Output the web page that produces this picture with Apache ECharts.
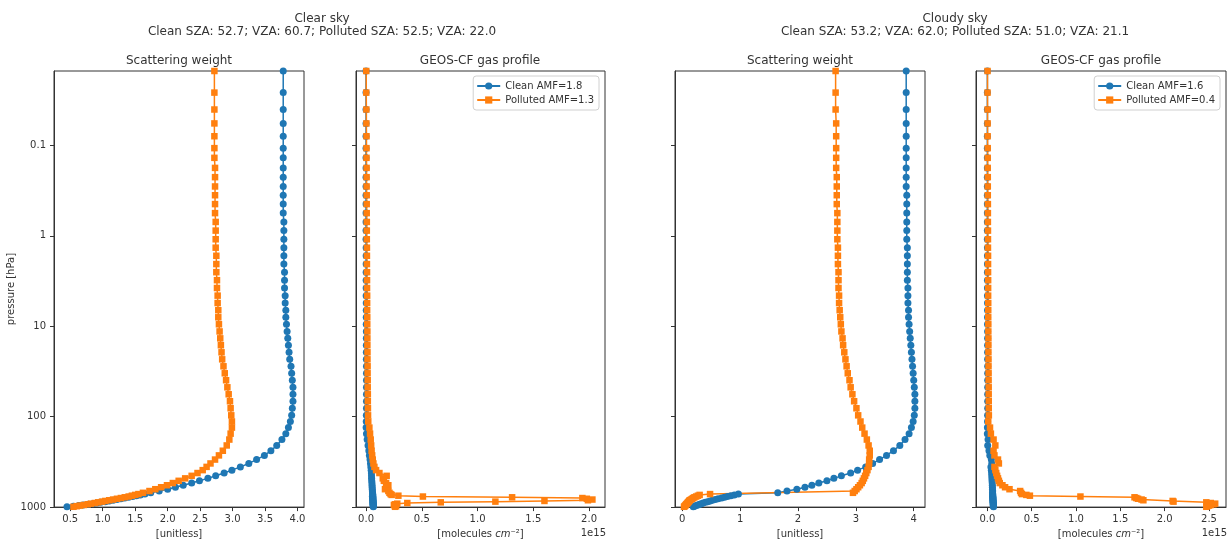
<!DOCTYPE html>
<html>
<head>
<meta charset="utf-8">
<title>Scattering weight / GEOS-CF gas profile</title>
<script src="https://cdn.jsdelivr.net/npm/echarts@6.0.0/dist/echarts.min.js"></script>
<style>
    html, body { margin: 0; padding: 0; background: #fff; }
    #main { width: 1231px; height: 544px; }
</style>
</head>
<body>
<div id="main"></div>
<script>
var FONT = 'DejaVu Sans';
var BLUE = '#1f77b4';
var ORANGE = '#ff7f0e';
var INK = '#333';

// model levels [hPa], top -> surface
var pressure = [
    0.015, 0.026, 0.040, 0.057, 0.079, 0.107, 0.137, 0.177, 0.224, 0.284,
    0.355, 0.445, 0.560, 0.701, 0.874, 1.09, 1.35, 1.66, 2.05, 2.52,
    3.09, 3.77, 4.58, 5.53, 6.64, 7.95, 9.50, 11.4, 13.6, 16.2,
    19.4, 23.2, 27.7, 33.1, 39.5, 47.3, 56.5, 67.5, 80.7, 96.6,
    113, 132, 154, 179, 208, 238, 268, 298, 329, 359,
    390, 420, 451, 481, 512, 542, 573, 603, 634, 664,
    695, 718, 733, 748, 764, 779, 794, 809, 825, 840,
    855, 870, 886, 901, 916, 931, 947, 962, 977, 992
];

// scattering weights, clear sky
var clearCleanSW = [
    3.78, 3.78, 3.78, 3.78, 3.78, 3.78, 3.78, 3.78, 3.78, 3.78,
    3.78, 3.78, 3.78, 3.79, 3.79, 3.79, 3.79, 3.79, 3.79, 3.80,
    3.80, 3.80, 3.81, 3.81, 3.82, 3.82, 3.83, 3.84, 3.85, 3.86,
    3.87, 3.88, 3.90, 3.91, 3.92, 3.93, 3.93, 3.93, 3.92, 3.91,
    3.89, 3.86, 3.82, 3.76, 3.68, 3.59, 3.49, 3.37, 3.25, 3.12,
    2.99, 2.87, 2.74, 2.62, 2.49, 2.37, 2.24, 2.12, 2.00, 1.87,
    1.74, 1.65, 1.58, 1.52, 1.46, 1.40, 1.34, 1.28, 1.22, 1.16,
    1.10, 1.04, 0.97, 0.91, 0.85, 0.78, 0.70, 0.63, 0.55, 0.45
];
var clearPollutedSW = [
    2.72, 2.72, 2.72, 2.72, 2.72, 2.72, 2.72, 2.73, 2.73, 2.73,
    2.73, 2.73, 2.73, 2.74, 2.74, 2.74, 2.74, 2.75, 2.75, 2.75,
    2.76, 2.76, 2.77, 2.77, 2.78, 2.78, 2.79, 2.80, 2.81, 2.82,
    2.83, 2.84, 2.86, 2.88, 2.90, 2.92, 2.94, 2.96, 2.97, 2.98,
    2.99, 2.99, 2.97, 2.95, 2.91, 2.85, 2.79, 2.73, 2.66, 2.60,
    2.54, 2.46, 2.37, 2.27, 2.17, 2.08, 1.99, 1.90, 1.81, 1.72,
    1.62, 1.55, 1.50, 1.45, 1.40, 1.34, 1.28, 1.22, 1.16, 1.10,
    1.04, 0.99, 0.93, 0.88, 0.82, 0.77, 0.71, 0.65, 0.60, 0.55
];

// scattering weights, cloudy sky
var cloudyCleanSW = [
    3.87, 3.87, 3.87, 3.87, 3.87, 3.87, 3.87, 3.87, 3.87, 3.87,
    3.88, 3.88, 3.88, 3.88, 3.88, 3.88, 3.89, 3.89, 3.89, 3.89,
    3.89, 3.90, 3.90, 3.90, 3.91, 3.91, 3.92, 3.93, 3.94, 3.95,
    3.96, 3.97, 3.98, 3.99, 4.00, 4.01, 4.02, 4.02, 4.02, 4.01,
    3.99, 3.96, 3.92, 3.85, 3.76, 3.65, 3.53, 3.41, 3.29, 3.17,
    3.03, 2.91, 2.75, 2.62, 2.50, 2.36, 2.24, 2.12, 1.98, 1.81,
    1.65, 0.97, 0.90, 0.84, 0.78, 0.73, 0.68, 0.62, 0.57, 0.52,
    0.48, 0.44, 0.40, 0.36, 0.33, 0.30, 0.27, 0.24, 0.21, 0.19
];
var cloudyPollutedSW = [
    2.65, 2.65, 2.65, 2.66, 2.66, 2.66, 2.66, 2.66, 2.67, 2.67,
    2.67, 2.67, 2.68, 2.68, 2.68, 2.68, 2.69, 2.69, 2.69, 2.70,
    2.70, 2.70, 2.71, 2.71, 2.72, 2.73, 2.74, 2.75, 2.77, 2.78,
    2.80, 2.82, 2.84, 2.86, 2.89, 2.91, 2.94, 2.97, 3.01, 3.04,
    3.08, 3.11, 3.15, 3.19, 3.22, 3.24, 3.24, 3.23, 3.23, 3.22,
    3.20, 3.18, 3.16, 3.14, 3.12, 3.10, 3.07, 3.04, 3.01, 2.98,
    2.95, 0.48, 0.30, 0.27, 0.24, 0.21, 0.19, 0.17, 0.15, 0.13,
    0.12, 0.11, 0.10, 0.09, 0.08, 0.07, 0.06, 0.05, 0.04, 0.03
];

// GEOS-CF partial columns [1e15 molecules cm-2], clear sky
var clearCleanProf = [
    0.000, 0.000, 0.000, 0.000, 0.000, 0.000, 0.000, 0.000, 0.000, 0.000,
    0.000, 0.000, 0.000, 0.000, 0.000, 0.000, 0.001, 0.001, 0.001, 0.001,
    0.001, 0.001, 0.001, 0.002, 0.002, 0.002, 0.002, 0.003, 0.003, 0.003,
    0.003, 0.003, 0.004, 0.004, 0.004, 0.004, 0.004, 0.004, 0.004, 0.003,
    0.002, 0.001, 0.004, 0.010, 0.018, 0.025, 0.030, 0.036, 0.040, 0.043,
    0.046, 0.048, 0.049, 0.050, 0.051, 0.053, 0.054, 0.055, 0.056, 0.057,
    0.058, 0.060, 0.058, 0.062, 0.057, 0.060, 0.063, 0.059, 0.061, 0.064,
    0.060, 0.062, 0.065, 0.061, 0.063, 0.066, 0.062, 0.064, 0.067, 0.065
];
var clearPollutedProf = [
    0.002, 0.002, 0.003, 0.003, 0.004, 0.004, 0.004, 0.005, 0.005, 0.005,
    0.006, 0.006, 0.006, 0.007, 0.007, 0.007, 0.008, 0.008, 0.008, 0.009,
    0.009, 0.009, 0.010, 0.010, 0.010, 0.011, 0.011, 0.012, 0.012, 0.012,
    0.013, 0.013, 0.014, 0.014, 0.015, 0.015, 0.016, 0.016, 0.017, 0.018,
    0.020, 0.030, 0.036, 0.042, 0.046, 0.050, 0.055, 0.060, 0.066, 0.075,
    0.090, 0.120, 0.185, 0.150, 0.160, 0.180, 0.200, 0.190, 0.170, 0.200,
    0.210, 0.220, 0.230, 0.290, 0.510, 1.310, 1.940, 1.980, 2.030, 1.990,
    1.600, 1.160, 0.670, 0.370, 0.280, 0.260, 0.250, 0.260, 0.270, 0.260
];

// GEOS-CF partial columns [1e15 molecules cm-2], cloudy sky
var cloudyCleanProf = [
    0.000, 0.000, 0.000, 0.000, 0.000, 0.000, 0.000, 0.000, 0.000, 0.000,
    0.000, 0.000, 0.000, 0.000, 0.000, 0.000, 0.001, 0.001, 0.001, 0.001,
    0.001, 0.001, 0.001, 0.002, 0.002, 0.002, 0.002, 0.003, 0.003, 0.003,
    0.003, 0.003, 0.004, 0.004, 0.004, 0.004, 0.004, 0.004, 0.004, 0.003,
    0.002, 0.001, 0.000, 0.008, 0.004, 0.018, 0.028, 0.045, 0.050, 0.040,
    0.045, 0.048, 0.050, 0.052, 0.053, 0.055, 0.056, 0.057, 0.058, 0.060,
    0.058, 0.061, 0.059, 0.062, 0.060, 0.063, 0.061, 0.064, 0.062, 0.065,
    0.063, 0.066, 0.064, 0.067, 0.065, 0.068, 0.066, 0.069, 0.067, 0.070
];
var cloudyPollutedProf = [
    0.002, 0.002, 0.003, 0.003, 0.003, 0.004, 0.004, 0.004, 0.005, 0.005,
    0.005, 0.006, 0.006, 0.006, 0.007, 0.007, 0.007, 0.008, 0.008, 0.008,
    0.009, 0.009, 0.009, 0.010, 0.010, 0.010, 0.011, 0.011, 0.012, 0.012,
    0.012, 0.013, 0.013, 0.014, 0.014, 0.015, 0.015, 0.016, 0.016, 0.017,
    0.010, 0.030, 0.040, 0.070, 0.090, 0.070, 0.080, 0.120, 0.130, 0.080,
    0.090, 0.100, 0.110, 0.120, 0.130, 0.140, 0.170, 0.200, 0.250, 0.370,
    0.380, 0.390, 0.440, 0.480, 1.050, 1.660, 1.680, 1.700, 1.740, 1.760,
    2.090, 2.100, 2.470, 2.520, 2.570, 2.550, 2.520, 2.500, 2.480, 2.470
];

// axis ticks
var swTicksClear = [0.5, 1.0, 1.5, 2.0, 2.5, 3.0, 3.5, 4.0];
var swTicksCloudy = [0, 1, 2, 3, 4];
var profTicksClear = [0.0, 0.5, 1.0, 1.5, 2.0];
var profTicksCloudy = [0.0, 0.5, 1.0, 1.5, 2.0, 2.5];
var pressureTicks = [0.1, 1, 10, 100, 1000];

var legendClear = ['Clean AMF=1.8', 'Polluted AMF=1.3'];
var legendCloudy = ['Clean AMF=1.6', 'Polluted AMF=0.4'];

function toPairs(values) {
    var out = [];
    for (var i = 0; i < values.length; i++) {
        out.push([values[i], pressure[i]]);
    }
    return out;
}

function pressureLabel(v) {
    for (var i = 0; i < pressureTicks.length; i++) {
        if (Math.abs(v - pressureTicks[i]) < pressureTicks[i] * 1e-6) {
            return String(pressureTicks[i]);
        }
    }
    return '';
}

function xAxis(idx, min, max, ticks, decimals, name) {
    return {
        type: 'value',
        gridIndex: idx,
        min: min,
        max: max,
        splitNumber: 5,
        axisLine: { show: true, onZero: false, lineStyle: { color: INK, width: 1 } },
        axisTick: { show: true, length: 4, customValues: ticks, lineStyle: { color: INK } },
        axisLabel: {
            customValues: ticks,
            color: INK, fontSize: 10, fontFamily: FONT, margin: 7,
            formatter: function (v) { return v.toFixed(decimals); }
        },
        splitLine: { show: false },
        name: name,
        nameLocation: 'middle',
        nameGap: 20,
        nameTextStyle: {
            color: INK, fontSize: 10, fontFamily: FONT,
            rich: { i: { fontStyle: 'italic', fontSize: 10, fontFamily: FONT, color: INK } }
        }
    };
}

function yAxis(idx, showLabels) {
    var ax = {
        type: 'log',
        logBase: 10,
        gridIndex: idx,
        min: 0.015,
        max: 1000,
        inverse: true,
        axisLine: { show: true, onZero: false, lineStyle: { color: INK, width: 1 } },
        axisTick: { show: true, length: 4, customValues: pressureTicks, lineStyle: { color: INK } },
        axisLabel: {
            show: showLabels,
            customValues: pressureTicks,
            color: INK, fontSize: 10, fontFamily: FONT, margin: 8,
            formatter: pressureLabel
        },
        splitLine: { show: false }
    };
    if (showLabels) {
        ax.name = 'pressure [hPa]';
        ax.nameLocation = 'middle';
        ax.nameGap = 31;
        ax.nameTextStyle = { color: INK, fontSize: 10, fontFamily: FONT };
    }
    return ax;
}

function lineSeries(name, idx, values, color, symbol, size) {
    return {
        name: name,
        type: 'line',
        xAxisIndex: idx,
        yAxisIndex: idx,
        data: toPairs(values),
        symbol: symbol,
        symbolSize: size,
        showSymbol: true,
        showAllSymbol: true,
        lineStyle: { color: color, width: 1.5 },
        itemStyle: { color: color },
        emphasis: { disabled: true },
        silent: true
    };
}

function legendBox(names, right) {
    return {
        data: names,
        orient: 'vertical',
        right: right,
        top: 76,
        padding: [5, 5, 5, 3],
        itemGap: 4,
        itemWidth: 23,
        itemHeight: 9,
        backgroundColor: '#fff',
        borderColor: '#d0d0d0',
        borderWidth: 1,
        borderRadius: 3,
        selectedMode: false,
        textStyle: { color: INK, fontSize: 10, fontFamily: FONT }
    };
}

function label(text, x, y, align) {
    return {
        type: 'text',
        x: x,
        y: y,
        silent: true,
        style: {
            text: text,
            fill: INK,
            font: '12px "' + FONT + '"',
            align: align || 'center',
            textAlign: align || 'center',
            verticalAlign: 'middle',
            textVerticalAlign: 'middle'
        }
    };
}

var myChart = echarts.init(document.getElementById('main'), null, { renderer: 'canvas' });

var gridBase = { top: 71, height: 437, show: true, borderColor: INK, borderWidth: 1, backgroundColor: 'transparent' };

var option = {
    animation: false,
    backgroundColor: '#fff',
    grid: [
        Object.assign({ left: 54, width: 250 }, gridBase),
        Object.assign({ left: 356, width: 249 }, gridBase),
        Object.assign({ left: 675, width: 250 }, gridBase),
        Object.assign({ left: 976, width: 250 }, gridBase)
    ],
    xAxis: [
        xAxis(0, 0.25, 4.10, swTicksClear, 1, '[unitless]'),
        xAxis(1, -0.09, 2.143, profTicksClear, 1, '[molecules {i|cm}\u207B\u00B2]'),
        xAxis(2, -0.126, 4.195, swTicksCloudy, 0, '[unitless]'),
        xAxis(3, -0.128, 2.692, profTicksCloudy, 1, '[molecules {i|cm}\u207B\u00B2]')
    ],
    yAxis: [
        yAxis(0, true),
        yAxis(1, false),
        yAxis(2, false),
        yAxis(3, false)
    ],
    legend: [
        legendBox(legendClear, 632),
        legendBox(legendCloudy, 11)
    ],
    graphic: [
        label('Clear sky', 322, 19),
        label('Clean SZA: 52.7; VZA: 60.7; Polluted SZA: 52.5; VZA: 22.0', 322, 32),
        label('Cloudy sky', 955, 19),
        label('Clean SZA: 53.2; VZA: 62.0; Polluted SZA: 51.0; VZA: 21.1', 955, 32),
        label('Scattering weight', 179, 61),
        label('GEOS-CF gas profile', 480, 61),
        label('Scattering weight', 800, 61),
        label('GEOS-CF gas profile', 1101, 61),
        {
            type: 'text', x: 606, y: 533, silent: true,
            style: { text: '1e15', fill: INK, font: '10px "' + FONT + '"', align: 'right', textAlign: 'right', verticalAlign: 'middle', textVerticalAlign: 'middle' }
        },
        {
            type: 'text', x: 1227, y: 533, silent: true,
            style: { text: '1e15', fill: INK, font: '10px "' + FONT + '"', align: 'right', textAlign: 'right', verticalAlign: 'middle', textVerticalAlign: 'middle' }
        }
    ],
    series: [
        lineSeries('Clean SW clear', 0, clearCleanSW, BLUE, 'circle', 7),
        lineSeries('Polluted SW clear', 0, clearPollutedSW, ORANGE, 'rect', 6.5),
        lineSeries(legendClear[0], 1, clearCleanProf, BLUE, 'circle', 7),
        lineSeries(legendClear[1], 1, clearPollutedProf, ORANGE, 'rect', 6.5),
        lineSeries('Clean SW cloudy', 2, cloudyCleanSW, BLUE, 'circle', 7),
        lineSeries('Polluted SW cloudy', 2, cloudyPollutedSW, ORANGE, 'rect', 6.5),
        lineSeries(legendCloudy[0], 3, cloudyCleanProf, BLUE, 'circle', 7),
        lineSeries(legendCloudy[1], 3, cloudyPollutedProf, ORANGE, 'rect', 6.5)
    ]
};
myChart.setOption(option);

window.addEventListener('resize', function () {
    myChart.resize();
});
</script>
</body>
</html>
